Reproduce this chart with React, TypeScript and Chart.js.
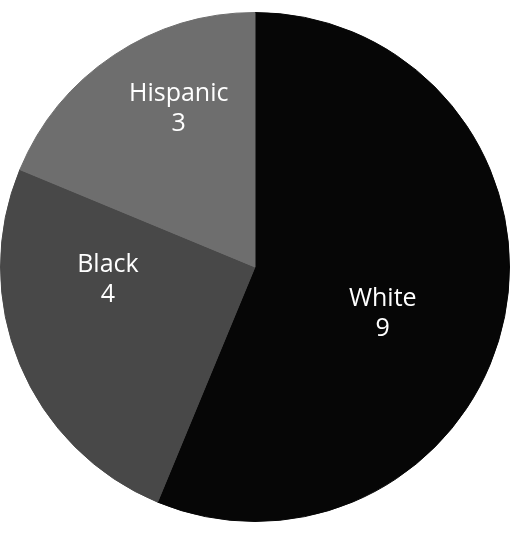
import React, { useEffect, useRef } from "react";
import { Chart, registerables } from "chart.js";

Chart.register(...registerables);

const categories = ["White", "Black", "Hispanic"];
const counts = [9, 4, 3];
const sliceColors = ["#060606", "#484848", "#6e6e6e"];
// label placement tweaks: [angle offset in degrees, radius fraction]
const labelAngleOffsets = [9, 17.5, 8];
const labelRadiusFractions = [0.535, 0.58, 0.69];

const sliceLabelPlugin = {
  id: "sliceLabels",
  afterDatasetsDraw(chart: any) {
    const ctx = chart.ctx;
    const meta = chart.getDatasetMeta(0);
    ctx.save();
    ctx.fillStyle = "#ffffff";
    ctx.font = "25px 'Open Sans', 'Noto Sans', sans-serif";
    ctx.textAlign = "center";
    ctx.textBaseline = "middle";
    meta.data.forEach((arc: any, i: number) => {
      const p = arc.getProps(["x", "y", "startAngle", "endAngle", "outerRadius"], true);
      const mid = (p.startAngle + p.endAngle) / 2 + (labelAngleOffsets[i] * Math.PI) / 180;
      const r = p.outerRadius * labelRadiusFractions[i];
      const cx = p.x + Math.cos(mid) * r;
      const cy = p.y + Math.sin(mid) * r;
      ctx.fillText(categories[i], cx, cy - 15);
      ctx.fillText(String(counts[i]), cx, cy + 15);
    });
    ctx.restore();
  },
};

export default function App() {
  const canvasRef = useRef<HTMLCanvasElement | null>(null);

  useEffect(() => {
    if (!canvasRef.current) return;
    const chart = new Chart(canvasRef.current, {
      type: "pie",
      data: {
        labels: categories,
        datasets: [
          {
            data: counts,
            backgroundColor: sliceColors,
            borderColor: sliceColors,
            borderWidth: 1,
          },
        ],
      },
      options: {
        animation: false,
        responsive: true,
        maintainAspectRatio: false,
        layout: { padding: { top: 3, bottom: 5, left: 0, right: 0 } },
        plugins: {
          legend: { display: false },
          tooltip: { enabled: false },
        },
      },
      plugins: [sliceLabelPlugin],
    });
    return () => chart.destroy();
  }, []);

  return (
    <div
      style={{
        position: "absolute",
        left: 0,
        top: 0,
        width: 510,
        height: 536,
        background: "#ffffff",
      }}
    >
      <canvas ref={canvasRef} />
    </div>
  );
}
